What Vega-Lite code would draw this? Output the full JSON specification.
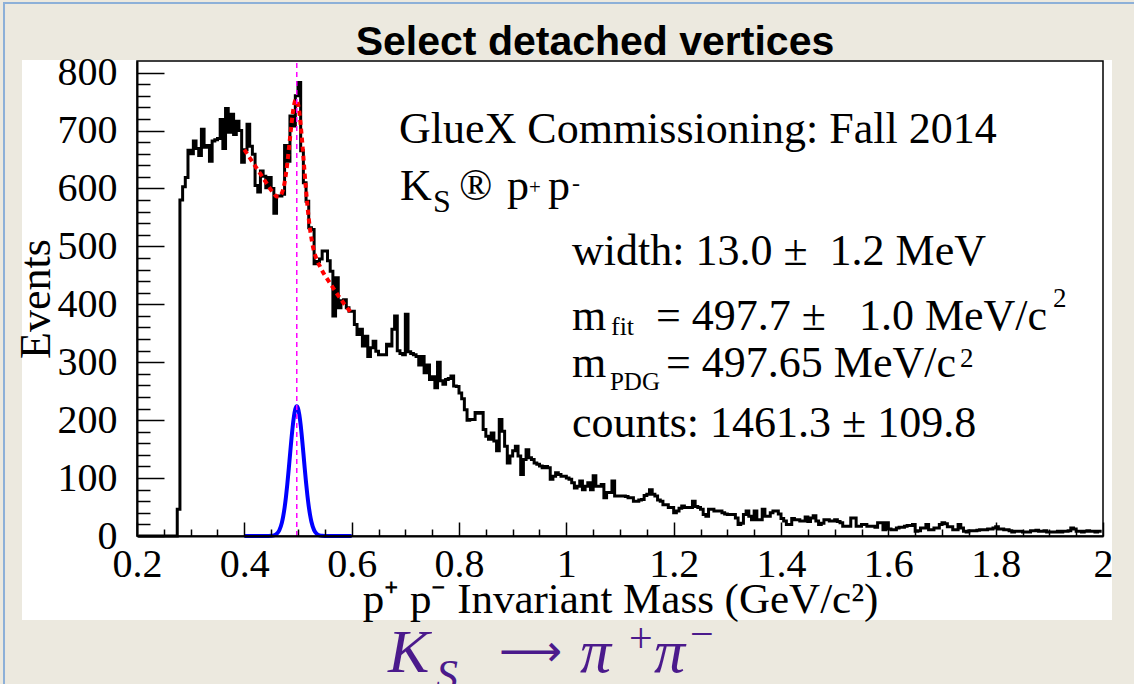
{
"$schema": "https://vega.github.io/schema/vega-lite/v6.json",
"width": 966, "height": 475,
"autosize": {"type": "none"},
"padding": {"left": 137, "top": 61, "right": 31, "bottom": 148},
"background": "#ECE9DF",
"config": {"view": {"stroke": null}, "axis": {"grid": false}},
"datasets": {
"hist": [
{"m":0.2025,"n":0},{"m":0.2075,"n":0},{"m":0.2125,"n":0},{"m":0.2175,"n":0},{"m":0.2225,"n":0},{"m":0.2275,"n":0},{"m":0.2325,"n":0},{"m":0.2375,"n":0},{"m":0.2425,"n":0},{"m":0.2475,"n":0},{"m":0.2525,"n":0},{"m":0.2575,"n":0},{"m":0.2625,"n":0},{"m":0.2675,"n":0},{"m":0.2725,"n":0},
{"m":0.2775,"n":46},{"m":0.2825,"n":580},{"m":0.2875,"n":603},{"m":0.2925,"n":619},{"m":0.2975,"n":666},{"m":0.3025,"n":660},{"m":0.3075,"n":682},{"m":0.3125,"n":669},{"m":0.3175,"n":657},{"m":0.3225,"n":702},{"m":0.3275,"n":671},{"m":0.3325,"n":674},{"m":0.3375,"n":647},{"m":0.3425,"n":682},{"m":0.3475,"n":684},{"m":0.3525,"n":686},{"m":0.3575,"n":719},{"m":0.3625,"n":669},{"m":0.3675,"n":738},{"m":0.3725,"n":697},{"m":0.3775,"n":728},{"m":0.3825,"n":693},{"m":0.3875,"n":716},{"m":0.3925,"n":700},{"m":0.3975,"n":645},
{"m":0.4025,"n":667},{"m":0.4075,"n":711},{"m":0.4125,"n":673},{"m":0.4175,"n":659},{"m":0.4225,"n":605},{"m":0.4275,"n":594},{"m":0.4325,"n":630},{"m":0.4375,"n":621},{"m":0.4425,"n":601},{"m":0.4475,"n":619},{"m":0.4525,"n":600},{"m":0.4575,"n":557},{"m":0.4625,"n":587},{"m":0.4675,"n":587},{"m":0.4725,"n":590},{"m":0.4775,"n":674},{"m":0.4825,"n":647},{"m":0.4875,"n":725},{"m":0.4925,"n":708},{"m":0.4975,"n":760},
{"m":0.5025,"n":783},{"m":0.5075,"n":665},{"m":0.5125,"n":610},{"m":0.5175,"n":578},{"m":0.5225,"n":532},{"m":0.5275,"n":529},{"m":0.5325,"n":470},{"m":0.5375,"n":474},{"m":0.5425,"n":478},{"m":0.5475,"n":492},{"m":0.5525,"n":492},{"m":0.5575,"n":475},{"m":0.5625,"n":457},{"m":0.5675,"n":380},{"m":0.5725,"n":446},{"m":0.5775,"n":394},{"m":0.5825,"n":406},{"m":0.5875,"n":408},{"m":0.5925,"n":394},{"m":0.5975,"n":388},
{"m":0.6025,"n":388},{"m":0.6075,"n":365},{"m":0.6125,"n":348},{"m":0.6175,"n":357},{"m":0.6225,"n":328},{"m":0.6275,"n":345},{"m":0.6325,"n":310},{"m":0.6375,"n":325},{"m":0.6425,"n":336},{"m":0.6475,"n":319},{"m":0.6525,"n":313},{"m":0.6575,"n":313},{"m":0.6625,"n":313},{"m":0.6675,"n":331},{"m":0.6725,"n":328},{"m":0.6775,"n":357},{"m":0.6825,"n":380},{"m":0.6875,"n":320},{"m":0.6925,"n":315},{"m":0.6975,"n":313},
{"m":0.7025,"n":383},{"m":0.7075,"n":318},{"m":0.7125,"n":315},{"m":0.7175,"n":313},{"m":0.7225,"n":310},{"m":0.7275,"n":295},{"m":0.7325,"n":310},{"m":0.7375,"n":282},{"m":0.7425,"n":295},{"m":0.7475,"n":270},{"m":0.7525,"n":275},{"m":0.7575,"n":256},{"m":0.7625,"n":300},{"m":0.7675,"n":268},{"m":0.7725,"n":262},{"m":0.7775,"n":270},{"m":0.7825,"n":272},{"m":0.7875,"n":276},{"m":0.7925,"n":259},{"m":0.7975,"n":258},
{"m":0.8025,"n":247},{"m":0.8075,"n":237},{"m":0.8125,"n":218},{"m":0.8175,"n":200},{"m":0.8225,"n":201},{"m":0.8275,"n":201},{"m":0.8325,"n":213},{"m":0.8375,"n":212},{"m":0.8425,"n":213},{"m":0.8475,"n":184},{"m":0.8525,"n":172},{"m":0.8575,"n":167},{"m":0.8625,"n":178},{"m":0.8675,"n":164},{"m":0.8725,"n":147},{"m":0.8775,"n":201},{"m":0.8825,"n":181},{"m":0.8875,"n":155},{"m":0.8925,"n":126},{"m":0.8975,"n":138},
{"m":0.9025,"n":147},{"m":0.9075,"n":155},{"m":0.9125,"n":138},{"m":0.9175,"n":106},{"m":0.9225,"n":132},{"m":0.9275,"n":149},{"m":0.9325,"n":135},{"m":0.9375,"n":132},{"m":0.9425,"n":126},{"m":0.9475,"n":124},{"m":0.9525,"n":121},{"m":0.9575,"n":118},{"m":0.9625,"n":120},{"m":0.9675,"n":118},{"m":0.9725,"n":98},{"m":0.9775,"n":103},{"m":0.9825,"n":109},{"m":0.9875,"n":106},{"m":0.9925,"n":103},{"m":0.9975,"n":103},
{"m":1.0025,"n":100},{"m":1.0075,"n":98},{"m":1.0125,"n":92},{"m":1.0175,"n":83},{"m":1.0225,"n":86},{"m":1.0275,"n":95},{"m":1.0325,"n":80},{"m":1.0375,"n":86},{"m":1.0425,"n":92},{"m":1.0475,"n":80},{"m":1.0525,"n":104},{"m":1.0575,"n":86},{"m":1.0625,"n":86},{"m":1.0675,"n":89},{"m":1.0725,"n":66},{"m":1.0775,"n":75},{"m":1.0825,"n":75},{"m":1.0875,"n":95},{"m":1.0925,"n":69},{"m":1.0975,"n":69},
{"m":1.1025,"n":69},{"m":1.1075,"n":69},{"m":1.1125,"n":68},{"m":1.1175,"n":66},{"m":1.1225,"n":66},{"m":1.1275,"n":60},{"m":1.1325,"n":60},{"m":1.1375,"n":62},{"m":1.1425,"n":63},{"m":1.1475,"n":70},{"m":1.1525,"n":72},{"m":1.1575,"n":80},{"m":1.1625,"n":72},{"m":1.1675,"n":69},{"m":1.1725,"n":62},{"m":1.1775,"n":60},{"m":1.1825,"n":54},{"m":1.1875,"n":54},{"m":1.1925,"n":49},{"m":1.1975,"n":49},
{"m":1.2025,"n":40},{"m":1.2075,"n":43},{"m":1.2125,"n":48},{"m":1.2175,"n":52},{"m":1.2225,"n":49},{"m":1.2275,"n":49},{"m":1.2325,"n":49},{"m":1.2375,"n":60},{"m":1.2425,"n":51},{"m":1.2475,"n":49},{"m":1.2525,"n":46},{"m":1.2575,"n":37},{"m":1.2625,"n":34},{"m":1.2675,"n":46},{"m":1.2725,"n":46},{"m":1.2775,"n":43},{"m":1.2825,"n":43},{"m":1.2875,"n":43},{"m":1.2925,"n":40},{"m":1.2975,"n":38},
{"m":1.3025,"n":37},{"m":1.3075,"n":37},{"m":1.3125,"n":37},{"m":1.3175,"n":31},{"m":1.3225,"n":20},{"m":1.3275,"n":22},{"m":1.3325,"n":37},{"m":1.3375,"n":43},{"m":1.3425,"n":34},{"m":1.3475,"n":28},{"m":1.3525,"n":43},{"m":1.3575,"n":28},{"m":1.3625,"n":28},{"m":1.3675,"n":46},{"m":1.3725,"n":34},{"m":1.3775,"n":34},{"m":1.3825,"n":40},{"m":1.3875,"n":43},{"m":1.3925,"n":43},{"m":1.3975,"n":38},
{"m":1.4025,"n":30},{"m":1.4075,"n":26},{"m":1.4125,"n":20},{"m":1.4175,"n":20},{"m":1.4225,"n":30},{"m":1.4275,"n":28},{"m":1.4325,"n":28},{"m":1.4375,"n":26},{"m":1.4425,"n":26},{"m":1.4475,"n":33},{"m":1.4525,"n":25},{"m":1.4575,"n":31},{"m":1.4625,"n":35},{"m":1.4675,"n":26},{"m":1.4725,"n":20},{"m":1.4775,"n":22},{"m":1.4825,"n":28},{"m":1.4875,"n":28},{"m":1.4925,"n":26},{"m":1.4975,"n":26},
{"m":1.5025,"n":28},{"m":1.5075,"n":25},{"m":1.5125,"n":23},{"m":1.5175,"n":17},{"m":1.5225,"n":17},{"m":1.5275,"n":17},{"m":1.5325,"n":31},{"m":1.5375,"n":31},{"m":1.5425,"n":17},{"m":1.5475,"n":17},{"m":1.5525,"n":20},{"m":1.5575,"n":20},{"m":1.5625,"n":17},{"m":1.5675,"n":17},{"m":1.5725,"n":17},{"m":1.5775,"n":15},{"m":1.5825,"n":23},{"m":1.5875,"n":23},{"m":1.5925,"n":11},{"m":1.5975,"n":23},
{"m":1.6025,"n":12},{"m":1.6075,"n":11},{"m":1.6125,"n":11},{"m":1.6175,"n":14},{"m":1.6225,"n":15},{"m":1.6275,"n":15},{"m":1.6325,"n":17},{"m":1.6375,"n":18},{"m":1.6425,"n":18},{"m":1.6475,"n":20},{"m":1.6525,"n":8},{"m":1.6575,"n":9},{"m":1.6625,"n":14},{"m":1.6675,"n":14},{"m":1.6725,"n":20},{"m":1.6775,"n":11},{"m":1.6825,"n":11},{"m":1.6875,"n":14},{"m":1.6925,"n":14},{"m":1.6975,"n":20},
{"m":1.7025,"n":23},{"m":1.7075,"n":21},{"m":1.7125,"n":16},{"m":1.7175,"n":16},{"m":1.7225,"n":11},{"m":1.7275,"n":11},{"m":1.7325,"n":20},{"m":1.7375,"n":14},{"m":1.7425,"n":8},{"m":1.7475,"n":7},{"m":1.7525,"n":9},{"m":1.7575,"n":9},{"m":1.7625,"n":9},{"m":1.7675,"n":10},{"m":1.7725,"n":11},{"m":1.7775,"n":11},{"m":1.7825,"n":11},{"m":1.7875,"n":12},{"m":1.7925,"n":12},{"m":1.7975,"n":14},
{"m":1.8025,"n":16},{"m":1.8075,"n":12},{"m":1.8125,"n":12},{"m":1.8175,"n":11},{"m":1.8225,"n":11},{"m":1.8275,"n":9},{"m":1.8325,"n":7},{"m":1.8375,"n":8},{"m":1.8425,"n":8},{"m":1.8475,"n":8},{"m":1.8525,"n":7},{"m":1.8575,"n":7},{"m":1.8625,"n":7},{"m":1.8675,"n":9},{"m":1.8725,"n":9},{"m":1.8775,"n":10},{"m":1.8825,"n":8},{"m":1.8875,"n":8},{"m":1.8925,"n":9},{"m":1.8975,"n":7},
{"m":1.9025,"n":7},{"m":1.9075,"n":7},{"m":1.9125,"n":7},{"m":1.9175,"n":8},{"m":1.9225,"n":7},{"m":1.9275,"n":8},{"m":1.9325,"n":8},{"m":1.9375,"n":9},{"m":1.9425,"n":14},{"m":1.9475,"n":12},{"m":1.9525,"n":8},{"m":1.9575,"n":8},{"m":1.9625,"n":7},{"m":1.9675,"n":8},{"m":1.9725,"n":9},{"m":1.9775,"n":8},{"m":1.9825,"n":8},{"m":1.9875,"n":7},{"m":1.9925,"n":8},{"m":1.9975,"n":8}
],
"gauss": [
{"m":0.40,"g":0},{"m":0.41,"g":0},{"m":0.42,"g":0},{"m":0.43,"g":0},{"m":0.44,"g":0},{"m":0.445,"g":0.05},{"m":0.45,"g":0.27},{"m":0.455,"g":1.0},{"m":0.46,"g":3.3},{"m":0.465,"g":9.5},{"m":0.47,"g":23.1},{"m":0.4725,"g":34.2},{"m":0.475,"g":48.8},{"m":0.4775,"g":67.0},{"m":0.48,"g":88.7},{"m":0.4825,"g":113.1},{"m":0.485,"g":139},{"m":0.4875,"g":164.7},{"m":0.49,"g":188},{"m":0.4925,"g":206.8},{"m":0.495,"g":219.2},{"m":0.4977,"g":224},{"m":0.50,"g":220.5},{"m":0.5025,"g":209.2},{"m":0.505,"g":191.4},{"m":0.5075,"g":168.6},{"m":0.51,"g":143.2},{"m":0.5125,"g":117.2},{"m":0.515,"g":92.4},{"m":0.5175,"g":70.2},{"m":0.52,"g":51.5},{"m":0.5225,"g":36.3},{"m":0.525,"g":24.7},{"m":0.53,"g":10.2},{"m":0.535,"g":3.65},{"m":0.54,"g":1.12},{"m":0.545,"g":0.3},{"m":0.55,"g":0.07},{"m":0.56,"g":0},{"m":0.58,"g":0},{"m":0.60,"g":0}
],
"fit": [
{"m":0.40,"f":667},{"m":0.405,"f":660},{"m":0.41,"f":653},{"m":0.415,"f":646},{"m":0.42,"f":639},{"m":0.425,"f":632},{"m":0.43,"f":625},{"m":0.435,"f":618},{"m":0.44,"f":611},{"m":0.445,"f":604},{"m":0.45,"f":597},{"m":0.455,"f":591},{"m":0.46,"f":586},{"m":0.465,"f":586},{"m":0.47,"f":592},{"m":0.4725,"f":599},{"m":0.475,"f":610},{"m":0.4775,"f":625},{"m":0.48,"f":643},{"m":0.4825,"f":664},{"m":0.485,"f":686},{"m":0.4875,"f":708},{"m":0.49,"f":728},{"m":0.4925,"f":743},{"m":0.495,"f":752},{"m":0.4977,"f":753},{"m":0.50,"f":746},{"m":0.5025,"f":732},{"m":0.505,"f":710},{"m":0.5075,"f":684},{"m":0.51,"f":655},{"m":0.5125,"f":625},{"m":0.515,"f":597},{"m":0.5175,"f":571},{"m":0.52,"f":548},{"m":0.5225,"f":529},{"m":0.525,"f":514},{"m":0.53,"f":491},{"m":0.535,"f":477},{"m":0.54,"f":467},{"m":0.545,"f":458},{"m":0.55,"f":450},{"m":0.555,"f":443},{"m":0.56,"f":436},{"m":0.565,"f":429},{"m":0.57,"f":422},{"m":0.575,"f":415},{"m":0.58,"f":409},{"m":0.585,"f":402},{"m":0.59,"f":396},{"m":0.595,"f":390},{"m":0.60,"f":384}
]
},
"resolve": {"axis": {"x": "independent", "y": "independent"}},
"layer": [
{"data": {"values": [{}]}, "mark": {"type": "rect", "fill": "white"},
 "encoding": {"x": {"datum": -0.0143, "type": "quantitative", "scale": {"domain": [0.2, 2], "nice": false, "zero": false}, "axis": null}, "x2": {"datum": 2.0168},
  "y": {"datum": -145, "type": "quantitative", "scale": {"domain": [0, 820], "nice": false, "zero": false}, "axis": null}, "y2": {"datum": 821.7}}},
{"data": {"values": [{}]}, "mark": {"type": "rect", "fill": null, "stroke": "#8DB0D8", "strokeWidth": 2},
 "encoding": {"x": {"datum": -0.0478, "type": "quantitative", "scale": {"domain": [0.2, 2], "nice": false, "zero": false}, "axis": null}, "x2": {"datum": 2.07},
  "y": {"datum": -266, "type": "quantitative", "scale": {"domain": [0, 820], "nice": false, "zero": false}, "axis": null}, "y2": {"datum": 920}}},
{"data": {"name": "hist"}, "mark": {"type": "line", "interpolate": "step", "color": "black", "strokeWidth": 3},
 "encoding": {
  "x": {"field": "m", "type": "quantitative", "scale": {"domain": [0.2, 2], "nice": false, "zero": false},
   "axis": {"values": [0.2,0.4,0.6,0.8,1,1.2,1.4,1.6,1.8,2], "format": "~g", "ticks": false, "domain": true, "domainColor": "black", "domainWidth": 2, "labelFont": "Liberation Serif", "labelFontSize": 40, "labelColor": "black", "labelPadding": 8, "labelFlush": false, "labelOverlap": false, "title": "p⁺ p⁻ Invariant Mass (GeV/c²)", "titleFont": "Liberation Serif", "titleFontSize": 43, "titleFontWeight": "normal", "titleColor": "black", "titlePadding": -6, "zindex": 2}},
  "y": {"field": "n", "type": "quantitative", "scale": {"domain": [0, 820], "nice": false, "zero": false},
   "axis": {"values": [0,100,200,300,400,500,600,700,800], "ticks": false, "domain": true, "domainColor": "black", "domainWidth": 2, "labelFont": "Liberation Serif", "labelFontSize": 40, "labelColor": "black", "labelPadding": 20, "labelOverlap": false, "title": "Events", "titleFont": "Liberation Serif", "titleFontSize": 44, "titleFontWeight": "normal", "titleColor": "black", "titlePadding": -1, "zindex": 2}}
 }},
{"data": {"name": "gauss"}, "mark": {"type": "line", "interpolate": "monotone", "color": "#0000FF", "strokeWidth": 4},
 "encoding": {
  "x": {"field": "m", "type": "quantitative", "scale": {"domain": [0.2, 2], "nice": false, "zero": false},
   "axis": {"orient": "bottom", "values": [0.2,0.4,0.6,0.8,1,1.2,1.4,1.6,1.8,2], "labels": false, "domain": false, "ticks": true, "tickSize": -14, "tickWidth": 1.5, "tickColor": "black", "title": null, "zindex": 2}},
  "y": {"field": "g", "type": "quantitative", "scale": {"domain": [0, 820], "nice": false, "zero": false},
   "axis": {"orient": "left", "values": [0,100,200,300,400,500,600,700,800], "labels": false, "domain": false, "ticks": true, "tickSize": -27, "tickWidth": 1.5, "tickColor": "black", "title": null, "zindex": 2}}
 }},
{"data": {"name": "fit"}, "mark": {"type": "line", "interpolate": "monotone", "color": "#FF0000", "strokeWidth": 4, "strokeDash": [5, 4]},
 "encoding": {
  "x": {"field": "m", "type": "quantitative", "scale": {"domain": [0.2, 2], "nice": false, "zero": false},
   "axis": {"orient": "bottom", "values": [0.25,0.3,0.35,0.45,0.5,0.55,0.65,0.7,0.75,0.85,0.9,0.95,1.05,1.1,1.15,1.25,1.3,1.35,1.45,1.5,1.55,1.65,1.7,1.75,1.85,1.9,1.95], "labels": false, "domain": false, "ticks": true, "tickSize": -7, "tickWidth": 1.5, "tickColor": "black", "title": null, "zindex": 2}},
  "y": {"field": "f", "type": "quantitative", "scale": {"domain": [0, 820], "nice": false, "zero": false},
   "axis": {"orient": "left", "values": [20,40,60,80,120,140,160,180,220,240,260,280,320,340,360,380,420,440,460,480,520,540,560,580,620,640,660,680,720,740,760,780], "labels": false, "domain": false, "ticks": true, "tickSize": -13, "tickWidth": 1.5, "tickColor": "black", "title": null, "zindex": 2}}
 }},
{"data": {"values": [{}]}, "mark": {"type": "rule", "color": "#FF00FF", "strokeWidth": 1.5, "strokeDash": [5, 4]},
 "encoding": {"x": {"datum": 0.4977, "type": "quantitative", "scale": {"domain": [0.2, 2], "nice": false, "zero": false}, "axis": null},
  "y": {"datum": 0, "type": "quantitative", "scale": {"domain": [0, 820], "nice": false, "zero": false}, "axis": null}, "y2": {"datum": 820}}},
{"data": {"values": [{}]}, "mark": {"type": "rect", "fill": null, "stroke": "black", "strokeWidth": 1.5},
 "encoding": {"x": {"datum": 0.2, "type": "quantitative", "scale": {"domain": [0.2, 2], "nice": false, "zero": false}, "axis": null}, "x2": {"datum": 2},
  "y": {"datum": 0, "type": "quantitative", "scale": {"domain": [0, 820], "nice": false, "zero": false}, "axis": null}, "y2": {"datum": 820}}},
{"data": {"values": [{}]}, "mark": {"type": "text", "text": "Select detached vertices", "font": "Liberation Sans", "fontWeight": "bold", "fontSize": 41, "align": "center", "baseline": "alphabetic", "color": "black"},
 "encoding": {"x": {"datum": 1.0534, "type": "quantitative", "scale": {"domain": [0.2, 2], "nice": false, "zero": false}, "axis": null}, "y": {"datum": 830.4, "type": "quantitative", "scale": {"domain": [0, 820], "nice": false, "zero": false}, "axis": null}}},
{"data": {"values": [{}]}, "mark": {"type": "text", "text": "GlueX Commissioning: Fall 2014", "font": "Liberation Serif", "fontSize": 44, "align": "left", "baseline": "alphabetic", "color": "black"},
 "encoding": {"x": {"datum": 0.6882, "type": "quantitative", "scale": {"domain": [0.2, 2], "nice": false, "zero": false}, "axis": null}, "y": {"datum": 678.4, "type": "quantitative", "scale": {"domain": [0, 820], "nice": false, "zero": false}, "axis": null}}},
{"data": {"values": [{}]}, "mark": {"type": "text", "text": "K", "font": "Liberation Serif", "fontSize": 44, "align": "left", "baseline": "alphabetic", "color": "black"},
 "encoding": {"x": {"datum": 0.69, "type": "quantitative", "scale": {"domain": [0.2, 2], "nice": false, "zero": false}, "axis": null}, "y": {"datum": 580, "type": "quantitative", "scale": {"domain": [0, 820], "nice": false, "zero": false}, "axis": null}}},
{"data": {"values": [{}]}, "mark": {"type": "text", "text": "S", "font": "Liberation Serif", "fontSize": 32, "align": "left", "baseline": "alphabetic", "color": "black"},
 "encoding": {"x": {"datum": 0.7515, "type": "quantitative", "scale": {"domain": [0.2, 2], "nice": false, "zero": false}, "axis": null}, "y": {"datum": 559.3, "type": "quantitative", "scale": {"domain": [0, 820], "nice": false, "zero": false}, "axis": null}}},
{"data": {"values": [{}]}, "mark": {"type": "text", "text": "®", "font": "Liberation Serif", "fontSize": 44, "align": "left", "baseline": "alphabetic", "color": "black"},
 "encoding": {"x": {"datum": 0.8, "type": "quantitative", "scale": {"domain": [0.2, 2], "nice": false, "zero": false}, "axis": null}, "y": {"datum": 580, "type": "quantitative", "scale": {"domain": [0, 820], "nice": false, "zero": false}, "axis": null}}},
{"data": {"values": [{}]}, "mark": {"type": "text", "text": "p", "font": "Liberation Serif", "fontSize": 44, "align": "left", "baseline": "alphabetic", "color": "black"},
 "encoding": {"x": {"datum": 0.8894, "type": "quantitative", "scale": {"domain": [0.2, 2], "nice": false, "zero": false}, "axis": null}, "y": {"datum": 580, "type": "quantitative", "scale": {"domain": [0, 820], "nice": false, "zero": false}, "axis": null}}},
{"data": {"values": [{}]}, "mark": {"type": "text", "text": "+", "font": "Liberation Serif", "fontSize": 21, "align": "left", "baseline": "alphabetic", "color": "black"},
 "encoding": {"x": {"datum": 0.9304, "type": "quantitative", "scale": {"domain": [0.2, 2], "nice": false, "zero": false}, "axis": null}, "y": {"datum": 590.4, "type": "quantitative", "scale": {"domain": [0, 820], "nice": false, "zero": false}, "axis": null}}},
{"data": {"values": [{}]}, "mark": {"type": "text", "text": "p", "font": "Liberation Serif", "fontSize": 44, "align": "left", "baseline": "alphabetic", "color": "black"},
 "encoding": {"x": {"datum": 0.9658, "type": "quantitative", "scale": {"domain": [0.2, 2], "nice": false, "zero": false}, "axis": null}, "y": {"datum": 580, "type": "quantitative", "scale": {"domain": [0, 820], "nice": false, "zero": false}, "axis": null}}},
{"data": {"values": [{}]}, "mark": {"type": "text", "text": "-", "font": "Liberation Serif", "fontSize": 24, "align": "left", "baseline": "alphabetic", "color": "black"},
 "encoding": {"x": {"datum": 1.0105, "type": "quantitative", "scale": {"domain": [0.2, 2], "nice": false, "zero": false}, "axis": null}, "y": {"datum": 595.6, "type": "quantitative", "scale": {"domain": [0, 820], "nice": false, "zero": false}, "axis": null}}},
{"data": {"values": [{}]}, "mark": {"type": "text", "text": "width: 13.0 ±\u00a0 1.2 MeV", "font": "Liberation Serif", "fontSize": 44, "align": "left", "baseline": "alphabetic", "color": "black"},
 "encoding": {"x": {"datum": 1.0105, "type": "quantitative", "scale": {"domain": [0.2, 2], "nice": false, "zero": false}, "axis": null}, "y": {"datum": 467.8, "type": "quantitative", "scale": {"domain": [0, 820], "nice": false, "zero": false}, "axis": null}}},
{"data": {"values": [{}]}, "mark": {"type": "text", "text": "m", "font": "Liberation Serif", "fontSize": 44, "align": "left", "baseline": "alphabetic", "color": "black"},
 "encoding": {"x": {"datum": 1.0105, "type": "quantitative", "scale": {"domain": [0.2, 2], "nice": false, "zero": false}, "axis": null}, "y": {"datum": 355.6, "type": "quantitative", "scale": {"domain": [0, 820], "nice": false, "zero": false}, "axis": null}}},
{"data": {"values": [{}]}, "mark": {"type": "text", "text": "fit", "font": "Liberation Serif", "fontSize": 26, "align": "left", "baseline": "alphabetic", "color": "black"},
 "encoding": {"x": {"datum": 1.0832, "type": "quantitative", "scale": {"domain": [0.2, 2], "nice": false, "zero": false}, "axis": null}, "y": {"datum": 347, "type": "quantitative", "scale": {"domain": [0, 820], "nice": false, "zero": false}, "axis": null}}},
{"data": {"values": [{}]}, "mark": {"type": "text", "text": "= 497.7 ±\u00a0\u00a0 1.0 MeV/c", "font": "Liberation Serif", "fontSize": 44, "align": "left", "baseline": "alphabetic", "color": "black"},
 "encoding": {"x": {"datum": 1.167, "type": "quantitative", "scale": {"domain": [0.2, 2], "nice": false, "zero": false}, "axis": null}, "y": {"datum": 355.6, "type": "quantitative", "scale": {"domain": [0, 820], "nice": false, "zero": false}, "axis": null}}},
{"data": {"values": [{}]}, "mark": {"type": "text", "text": "2", "font": "Liberation Serif", "fontSize": 27, "align": "left", "baseline": "alphabetic", "color": "black"},
 "encoding": {"x": {"datum": 1.9067, "type": "quantitative", "scale": {"domain": [0.2, 2], "nice": false, "zero": false}, "axis": null}, "y": {"datum": 395.3, "type": "quantitative", "scale": {"domain": [0, 820], "nice": false, "zero": false}, "axis": null}}},
{"data": {"values": [{}]}, "mark": {"type": "text", "text": "m", "font": "Liberation Serif", "fontSize": 44, "align": "left", "baseline": "alphabetic", "color": "black"},
 "encoding": {"x": {"datum": 1.0105, "type": "quantitative", "scale": {"domain": [0.2, 2], "nice": false, "zero": false}, "axis": null}, "y": {"datum": 274.5, "type": "quantitative", "scale": {"domain": [0, 820], "nice": false, "zero": false}, "axis": null}}},
{"data": {"values": [{}]}, "mark": {"type": "text", "text": "PDG", "font": "Liberation Serif", "fontSize": 25, "align": "left", "baseline": "alphabetic", "color": "black"},
 "encoding": {"x": {"datum": 1.0813, "type": "quantitative", "scale": {"domain": [0.2, 2], "nice": false, "zero": false}, "axis": null}, "y": {"datum": 252, "type": "quantitative", "scale": {"domain": [0, 820], "nice": false, "zero": false}, "axis": null}}},
{"data": {"values": [{}]}, "mark": {"type": "text", "text": "= 497.65 MeV/c", "font": "Liberation Serif", "fontSize": 44, "align": "left", "baseline": "alphabetic", "color": "black"},
 "encoding": {"x": {"datum": 1.1857, "type": "quantitative", "scale": {"domain": [0.2, 2], "nice": false, "zero": false}, "axis": null}, "y": {"datum": 274.5, "type": "quantitative", "scale": {"domain": [0, 820], "nice": false, "zero": false}, "axis": null}}},
{"data": {"values": [{}]}, "mark": {"type": "text", "text": "2", "font": "Liberation Serif", "fontSize": 27, "align": "left", "baseline": "alphabetic", "color": "black"},
 "encoding": {"x": {"datum": 1.7334, "type": "quantitative", "scale": {"domain": [0.2, 2], "nice": false, "zero": false}, "axis": null}, "y": {"datum": 291.7, "type": "quantitative", "scale": {"domain": [0, 820], "nice": false, "zero": false}, "axis": null}}},
{"data": {"values": [{}]}, "mark": {"type": "text", "text": "counts: 1461.3 ± 109.8", "font": "Liberation Serif", "fontSize": 44, "align": "left", "baseline": "alphabetic", "color": "black"},
 "encoding": {"x": {"datum": 1.0105, "type": "quantitative", "scale": {"domain": [0.2, 2], "nice": false, "zero": false}, "axis": null}, "y": {"datum": 170.9, "type": "quantitative", "scale": {"domain": [0, 820], "nice": false, "zero": false}, "axis": null}}},
{"data": {"values": [{}]}, "mark": {"type": "text", "text": "K", "font": "Liberation Serif", "fontStyle": "italic", "fontSize": 62, "align": "left", "baseline": "alphabetic", "color": "#4B1A8C"},
 "encoding": {"x": {"datum": 0.6677, "type": "quantitative", "scale": {"domain": [0.2, 2], "nice": false, "zero": false}, "axis": null}, "y": {"datum": -234.8, "type": "quantitative", "scale": {"domain": [0, 820], "nice": false, "zero": false}, "axis": null}}},
{"data": {"values": [{}]}, "mark": {"type": "text", "text": "S", "font": "Liberation Serif", "fontStyle": "italic", "fontSize": 44, "align": "left", "baseline": "alphabetic", "color": "#4B1A8C"},
 "encoding": {"x": {"datum": 0.7571, "type": "quantitative", "scale": {"domain": [0.2, 2], "nice": false, "zero": false}, "axis": null}, "y": {"datum": -265.9, "type": "quantitative", "scale": {"domain": [0, 820], "nice": false, "zero": false}, "axis": null}}},
{"data": {"values": [{}]}, "mark": {"type": "text", "text": "⟶", "font": "DejaVu Sans", "fontSize": 44, "align": "left", "baseline": "alphabetic", "color": "#4B1A8C"},
 "encoding": {"x": {"datum": 0.8745, "type": "quantitative", "scale": {"domain": [0.2, 2], "nice": false, "zero": false}, "axis": null}, "y": {"datum": -224.4, "type": "quantitative", "scale": {"domain": [0, 820], "nice": false, "zero": false}, "axis": null}}},
{"data": {"values": [{}]}, "mark": {"type": "text", "text": "π", "font": "Liberation Serif", "fontStyle": "italic", "fontSize": 62, "align": "left", "baseline": "alphabetic", "color": "#4B1A8C"},
 "encoding": {"x": {"datum": 1.0254, "type": "quantitative", "scale": {"domain": [0.2, 2], "nice": false, "zero": false}, "axis": null}, "y": {"datum": -234.8, "type": "quantitative", "scale": {"domain": [0, 820], "nice": false, "zero": false}, "axis": null}}},
{"data": {"values": [{}]}, "mark": {"type": "text", "text": "+", "font": "Liberation Serif", "fontSize": 42, "align": "left", "baseline": "alphabetic", "color": "#4B1A8C"},
 "encoding": {"x": {"datum": 1.1167, "type": "quantitative", "scale": {"domain": [0.2, 2], "nice": false, "zero": false}, "axis": null}, "y": {"datum": -200.3, "type": "quantitative", "scale": {"domain": [0, 820], "nice": false, "zero": false}, "axis": null}}},
{"data": {"values": [{}]}, "mark": {"type": "text", "text": "π", "font": "Liberation Serif", "fontStyle": "italic", "fontSize": 62, "align": "left", "baseline": "alphabetic", "color": "#4B1A8C"},
 "encoding": {"x": {"datum": 1.1633, "type": "quantitative", "scale": {"domain": [0.2, 2], "nice": false, "zero": false}, "axis": null}, "y": {"datum": -234.8, "type": "quantitative", "scale": {"domain": [0, 820], "nice": false, "zero": false}, "axis": null}}},
{"data": {"values": [{}]}, "mark": {"type": "text", "text": "−", "font": "Liberation Serif", "fontSize": 42, "align": "left", "baseline": "alphabetic", "color": "#4B1A8C"},
 "encoding": {"x": {"datum": 1.2304, "type": "quantitative", "scale": {"domain": [0.2, 2], "nice": false, "zero": false}, "axis": null}, "y": {"datum": -193.3, "type": "quantitative", "scale": {"domain": [0, 820], "nice": false, "zero": false}, "axis": null}}}
]
}
